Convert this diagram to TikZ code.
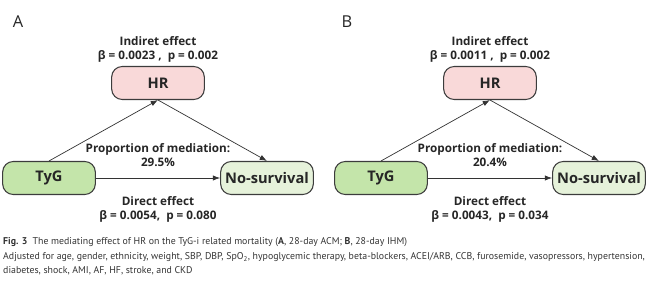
\documentclass[tikz,border=0pt]{standalone}
\usepackage{fontspec}
\setmainfont{Open Sans}
\newfontfamily\capfont{PT Sans}
\usetikzlibrary{arrows.meta}
\definecolor{hrpink}{HTML}{F9D9D9}
\definecolor{tyggreen}{HTML}{C4E5AA}
\definecolor{outgreen}{HTML}{E6F2DA}
\definecolor{boxline}{HTML}{3C3C3C}

\begin{document}
\begin{tikzpicture}[x=0.03cm, y=-0.03cm,
    var/.style={draw=boxline, line width=0.9pt, rounded corners=9pt, minimum width=2.78cm, minimum height=0.99cm, font=\fontsize{12.5}{14}\selectfont\bfseries, text=black!85},
    lbl/.style={align=center, font=\fontsize{10}{12}\selectfont\bfseries, text=black!85},
    link/.style={-{Latex[length=2.2mm,width=1.6mm]}, draw=black!80, line width=0.6pt},
    panel/.style={font=\fontsize{14}{16}\selectfont, text=black!85},
    figcap/.style={anchor=west, inner sep=0pt, font=\capfont\fontsize{8.4}{9}\selectfont, text=black!80}
]
    \useasboundingbox (0,0) rectangle (666,286);

    \node[panel] (pa) at (18,22) {A};
    \node[var, fill=hrpink] (hrA) at (158,83) {HR};
    \node[var, fill=tyggreen] (tygA) at (49,178) {TyG};
    \node[var, fill=outgreen] (outA) at (267,178) {No-survival};
    \node[lbl] (indA) at (158,49) {Indiret effect\\β = 0.0023 ,\ \ p = 0.002};
    \node[lbl] (propA) at (158,155.5) {Proportion of mediation:\\29.5\%};
    \node[lbl] (dirA) at (158,209) {Direct effect\\β = 0.0054,\ \ p = 0.080};

    \draw[link] (tygA.north) -- (hrA.south);
    \draw[link] (hrA.south) -- (outA.north);
    \draw[link] (tygA.east) -- (outA.west);

    \node[panel] (pb) at (347,22) {B};
    \node[var, fill=hrpink] (hrB) at (490,83) {HR};
    \node[var, fill=tyggreen] (tygB) at (381,178) {TyG};
    \node[var, fill=outgreen] (outB) at (599,178) {No-survival};
    \node[lbl] (indB) at (490,49) {Indiret effect\\β = 0.0011 ,\ \ p = 0.002};
    \node[lbl] (propB) at (490,155.5) {Proportion of mediation:\\20.4\%};
    \node[lbl] (dirB) at (490,209) {Direct effect\\β = 0.0043,\ \ p = 0.034};

    \draw[link] (tygB.north) -- (hrB.south);
    \draw[link] (hrB.south) -- (outB.north);
    \draw[link] (tygB.east) -- (outB.west);

    \node[figcap] (cap1) at (3,242) {\textbf{Fig. 3}\ \ The mediating effect of HR on the TyG-i related mortality (\textbf{A}, 28-day ACM; \textbf{B}, 28-day IHM)};
    \node[figcap] (cap2) at (3,257) {Adjusted for age, gender, ethnicity, weight, SBP, DBP, SpO\textsubscript{2}, hypoglycemic therapy, beta-blockers, ACEI/ARB, CCB, furosemide, vasopressors, hypertension,};
    \node[figcap] (cap3) at (3,271) {diabetes, shock, AMI, AF, HF, stroke, and CKD};
\end{tikzpicture}
\end{document}
